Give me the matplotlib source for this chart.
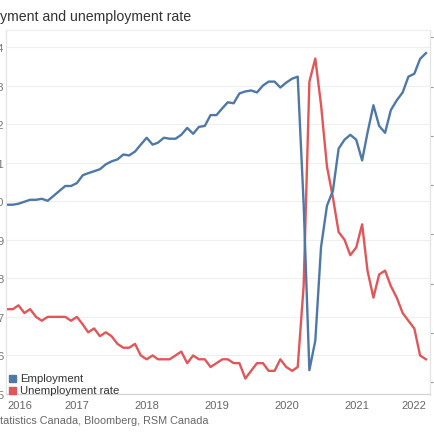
import matplotlib
matplotlib.use("Agg")
import matplotlib.pyplot as plt
import pandas as pd
from matplotlib.patches import Rectangle

plt.rcParams['font.family'] = ['Liberation Sans', 'DejaVu Sans']

# monthly data, Dec 2015 .. Dec 2021 (dated at month end)
dates = pd.date_range('2015-12-31', periods=73, freq='ME')

# employment, millions (right axis)
employment = [
    17.80, 17.80, 17.81, 17.83, 17.85, 17.85, 17.86, 17.84, 17.89, 17.94,
    17.99, 17.99, 18.02, 18.10, 18.12, 18.14, 18.16, 18.21, 18.24, 18.26,
    18.31, 18.30, 18.34, 18.41, 18.48, 18.41, 18.43, 18.48, 18.47, 18.47,
    18.51, 18.58, 18.52, 18.59, 18.60, 18.71, 18.71, 18.78, 18.84, 18.83,
    18.93, 18.95, 18.96, 18.94, 19.01, 19.05, 19.05, 18.99, 19.04, 19.08,
    19.10, 17.81, 16.12, 16.42, 17.37, 17.79, 17.94, 18.37, 18.46, 18.51,
    18.46, 18.25, 18.53, 18.81, 18.60, 18.53, 18.76, 18.86, 18.94, 19.10,
    19.13, 19.28, 19.34,
]

# unemployment rate, % (left axis)
unemployment = [
    7.2, 7.2, 7.3, 7.1, 7.2, 7.0, 6.9, 7.0, 7.0, 7.0,
    7.0, 6.9, 7.0, 6.8, 6.6, 6.7, 6.5, 6.6, 6.5, 6.3,
    6.2, 6.2, 6.3, 6.0, 5.9, 6.0, 5.9, 5.9, 5.9, 6.0,
    6.1, 5.8, 6.0, 5.9, 5.9, 5.7, 5.8, 5.9, 5.9, 5.8,
    5.8, 5.4, 5.6, 5.8, 5.8, 5.6, 5.6, 5.9, 5.7, 5.6,
    5.7, 7.8, 13.1, 13.7, 12.5, 10.9, 10.1, 9.2, 9.0, 8.6,
    8.8, 9.4, 8.2, 7.5, 8.1, 8.2, 7.8, 7.5, 7.1, 6.9,
    6.7, 6.0, 5.9,
]

years = [2016, 2017, 2018, 2019, 2020, 2021, 2022]
left_ticks = [5, 6, 7, 8, 9, 10, 11, 12, 13, 14]
right_ticks = [16.0, 16.5, 17.0, 17.5, 18.0, 18.5, 19.0, 19.5]

blue = '#4e79a7'
red = '#e15759'
grey_txt = '#666666'

W = H = 435
fig = plt.figure(figsize=(W / 100, H / 100), dpi=100)
ax = fig.add_axes([6 / W, 1 - 395 / H, 424 / W, 364 / H])
ax2 = ax.twinx()

ax.plot(dates, unemployment, color=red, lw=1.7)
ax2.plot(dates, employment, color=blue, lw=1.7)

ax.set_xlim(pd.Timestamp('2015-12-26'), pd.Timestamp('2022-01-21'))
ax.set_ylim(5, 14.44)
ax2.set_ylim(15.878, 19.574)

ax.set_yticks(left_ticks)
ax.set_yticklabels([f'{v:g}' for v in left_ticks])
ax.yaxis.grid(True, color='#efefef', lw=0.8)
ax.set_axisbelow(True)
ax.tick_params(axis='y', length=0, pad=1.5, labelsize=8, colors='#777777')

ax2.set_yticks(right_ticks)
ax2.set_yticklabels([f'{v:.1f}M' for v in right_ticks])
ax2.tick_params(axis='y', length=2.5, width=0.8, color='#999999', pad=6,
                labelsize=8, labelcolor='#777777')

ax.set_xticks([pd.Timestamp(f'{y}-01-01') for y in years])
ax.set_xticklabels([str(y) for y in years])
ax.tick_params(axis='x', length=0, pad=4, labelsize=8, colors=grey_txt)
xl = ax.get_xticklabels()
xl[0].set_ha('left')
xl[-1].set_ha('right')

for a in (ax, ax2):
    for s in a.spines.values():
        s.set_color('#e3e3e3')
        s.set_linewidth(0.8)
    a.spines['bottom'].set_color('#d4d4d4')
    a.spines['top'].set_color('#eeeeee')

fig.text(-40 / W, 1 - 17 / H, 'Employment and unemployment rate',
         fontsize=10.2, color='#333333', ha='left', va='center')
fig.text(-47.7 / W, 1 - 421.5 / H,
         'Source: Statistics Canada, Bloomberg, RSM Canada',
         fontsize=7.8, color=grey_txt, ha='left', va='center')

# legend
for i, (lab, col) in enumerate([('Employment', blue), ('Unemployment rate', red)]):
    yc = 379.5 + i * 11.5
    fig.patches.append(Rectangle((9.5 / W, 1 - (yc + 3.5) / H), 7 / W, 7 / H,
                                 transform=fig.transFigure, color=col,
                                 zorder=5))
    fig.text(20.5 / W, 1 - yc / H, lab, fontsize=8.2, color='#333333',
             ha='left', va='center', zorder=5)

fig.savefig('out.png', dpi=100)
